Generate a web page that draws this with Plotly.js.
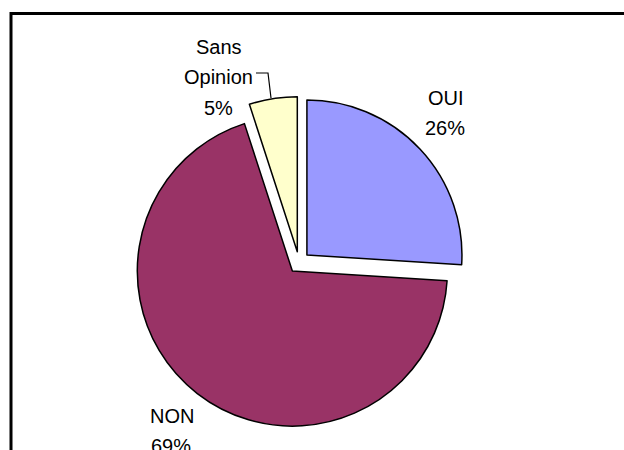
<!DOCTYPE html>
<html>
<head>
<meta charset="utf-8">
<script src="https://cdn.plot.ly/plotly-3.0.1.min.js"></script>
<style>html,body{margin:0;padding:0;background:#fff;}#chart{width:624px;height:450px;}</style>
</head>
<body>
<div id="chart"></div>
<script>
// Data
var categories = ["OUI", "NON", "Sans Opinion"];
var values = [26, 69, 5];
var percentLabels = ["26%", "69%", "5%"];
var sliceColors = ["#9999FF", "#993366", "#FFFFCC"];

var W = 624, H = 450;
function px(x) { return x / W; }
function py(y) { return 1 - y / H; }

var trace = {
  type: "pie",
  values: values,
  labels: categories,
  sort: false,
  direction: "clockwise",
  rotation: 0,
  pull: values.map(function () { return 0.07; }),
  marker: { colors: sliceColors, line: { color: "#000000", width: 1.5 } },
  textinfo: "none",
  hoverinfo: "none",
  showlegend: false,
  domain: { x: [px(133), px(465)], y: [py(428.4), py(96.6)] }
};

// label positions (styling only)
var labelPos = [
  { lines: ["OUI"], x: 446, ys: [98], pctY: 128 },
  { lines: ["NON"], x: 172, ys: [416], pctY: 446 },
  { lines: ["Sans", "Opinion"], x: 219, ys: [47, 77], pctY: 108 }
];

var annotations = [];
categories.forEach(function (c, i) {
  var words = labelPos[i].lines;
  words.forEach(function (w, j) {
    annotations.push({
      xref: "paper", yref: "paper", x: px(labelPos[i].x), y: py(labelPos[i].ys[j]),
      text: w, showarrow: false, xanchor: "center", yanchor: "middle",
      font: { family: "Liberation Sans, Arial, sans-serif", size: 20, color: "#000" }
    });
  });
  annotations.push({
    xref: "paper", yref: "paper", x: px(labelPos[i].x - 1), y: py(labelPos[i].pctY),
    text: percentLabels[i], showarrow: false, xanchor: "center", yanchor: "middle",
    font: { family: "Liberation Sans, Arial, sans-serif", size: 20, color: "#000" }
  });
});

var layout = {
  width: W, height: H,
  margin: { l: 0, r: 0, t: 0, b: 0 },
  paper_bgcolor: "#ffffff",
  plot_bgcolor: "#ffffff",
  showlegend: false,
  annotations: annotations,
  shapes: [
    { type: "rect", xref: "paper", yref: "paper",
      x0: px(11), x1: px(640), y0: py(470), y1: py(13.5),
      line: { color: "#000", width: 3 }, fillcolor: "rgba(0,0,0,0)", layer: "above" },
    { type: "path", xref: "paper", yref: "paper",
      path: "M " + px(256) + " " + py(73) + " L " + px(268) + " " + py(73) + " L " + px(271) + " " + py(98),
      line: { color: "#000", width: 1.2 } }
  ]
};

Plotly.newPlot("chart", [trace], layout, { staticPlot: true, displayModeBar: false });
</script>
</body>
</html>
